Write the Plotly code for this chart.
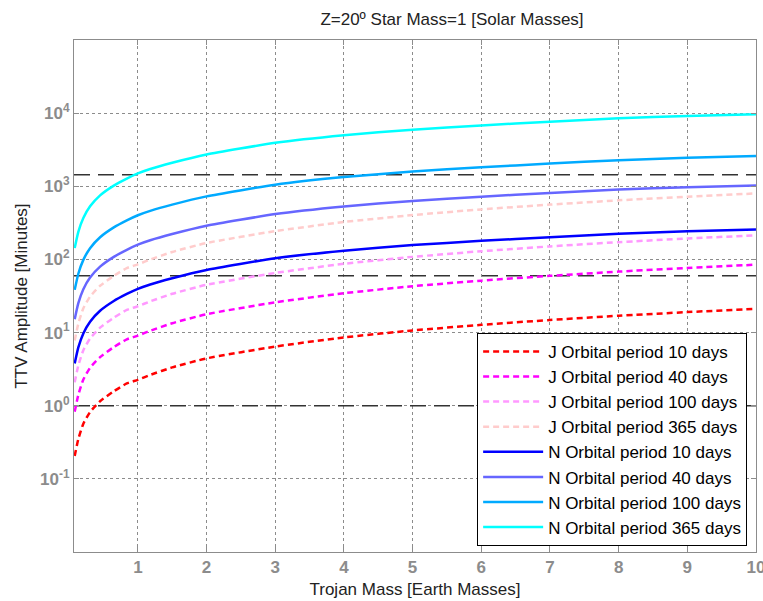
import plotly.graph_objects as go

# Trojan mass [Earth masses]
mass = [0.08, 0.133, 0.206, 0.304, 0.45, 0.644, 0.839, 1.0, 1.18, 1.5,
        2, 3, 4, 5, 6, 7, 8, 9, 10]

# TTV amplitude [minutes]
j_10 = [0.206, 0.350, 0.568, 0.820, 1.151, 1.563, 2.014, 2.259, 2.636, 3.342,
        4.436, 6.44, 8.59, 10.69, 12.76, 14.86, 16.98, 19.05, 21.09]
j_40 = [0.828, 1.406, 2.28, 3.30, 4.62, 6.28, 8.09, 9.08, 10.59, 13.43,
        17.82, 25.9, 34.5, 43.0, 51.3, 59.7, 68.2, 76.6, 84.7]
j_100 = [2.09, 3.55, 5.75, 8.32, 11.67, 15.85, 20.4, 22.9, 26.7, 33.9,
         45.0, 65.3, 87.1, 108.4, 129.4, 150.7, 172.2, 193.2, 213.8]
j_365 = [7.80, 13.24, 21.5, 31.0, 43.6, 59.2, 76.2, 85.5, 99.8, 126.5,
         167.9, 243.8, 325.1, 404.6, 483.1, 562.3, 642.7, 721.1, 798]
n_10 = [3.78, 6.28, 9.73, 14.06, 19.86, 26.8, 33.7, 39.6, 45.5, 55.3,
        71.8, 103.8, 131.8, 157.0, 179.5, 201.8, 224.4, 242.1, 255.9]
n_40 = [15.2, 25.2, 39.1, 56.5, 79.8, 107.6, 135.5, 159.2, 182.8, 222.3,
        288.4, 416.9, 529.7, 631.0, 721.1, 810.6, 901.6, 972.7, 1028]
n_100 = [38.4, 63.7, 98.6, 142.6, 201, 272, 342, 402, 461, 561,
         728, 1052, 1337, 1593, 1820, 2046, 2275, 2455, 2594]
n_365 = [143, 238, 368, 532, 752, 1014, 1276, 1500, 1722, 2094,
         2716, 3926, 4989, 5943, 6792, 7638, 8492, 9162, 9683]

# reference levels: 1 minute, 1 hour, 1 day
ref_levels = [1, 60, 1440]

series = [
    ("J Orbital period 10 days", j_10, "#ff0000", "dash"),
    ("J Orbital period 40 days", j_40, "#ff00ff", "dash"),
    ("J Orbital period 100 days", j_100, "#ff99ff", "dash"),
    ("J Orbital period 365 days", j_365, "#ffcccc", "dash"),
    ("N Orbital period 10 days", n_10, "#0000ff", "solid"),
    ("N Orbital period 40 days", n_40, "#6666ff", "solid"),
    ("N Orbital period 100 days", n_100, "#00aaff", "solid"),
    ("N Orbital period 365 days", n_365, "#00ffff", "solid"),
]

x_ticks = [1, 2, 3, 4, 5, 6, 7, 8, 9, 10]
y_ticks = [0.1, 1, 10, 100, 1000, 10000]
y_ticktext = ["10<sup>-1</sup>", "10<sup>0</sup>", "10<sup>1</sup>",
              "10<sup>2</sup>", "10<sup>3</sup>", "10<sup>4</sup>"]

x_range = [0.07, 10.0005]

fig = go.Figure()

for lvl in ref_levels:
    fig.add_trace(go.Scatter(
        x=x_range, y=[lvl, lvl], mode="lines", showlegend=False,
        hoverinfo="skip",
        line=dict(color="#333333", width=1.5, dash="16px,8px")))

for name, vals, color, dash in series:
    fig.add_trace(go.Scatter(
        x=mass, y=vals, mode="lines", name=name,
        line=dict(color=color, width=2.5,
                  dash="6px,4px" if dash == "dash" else "solid",
                  shape="spline", smoothing=0.5)))

font_main = "Liberation Sans, Arial, sans-serif"

fig.update_layout(
    width=763, height=601,
    margin=dict(l=74, r=7, t=40, b=49, autoexpand=False),
    paper_bgcolor="white", plot_bgcolor="white",
    title=dict(text="Z=20º Star Mass=1 [Solar Masses]",
               x=(74 + 378) / 763, xanchor="center", y=1 - 19 / 601, yanchor="middle",
               font=dict(family=font_main, size=17, color="#222222")),
    legend=dict(x=0.987, y=0.012, xanchor="right", yanchor="bottom",
                bgcolor="white", bordercolor="#000000", borderwidth=1,
                font=dict(family=font_main, size=17, color="#000000"),
                itemwidth=60, tracegroupgap=0),
    showlegend=True,
)

fig.update_xaxes(
    range=x_range, tickvals=x_ticks, ticktext=[str(t) for t in x_ticks],
    showline=True, linecolor="#8c8c8c", linewidth=1, mirror="ticks",
    ticks="inside", ticklen=5, tickcolor="#8c8c8c",
    showgrid=True, gridcolor="#8c8c8c", gridwidth=1, griddash="3px,3px",
    zeroline=False, ticklabeloverflow="allow", automargin=False,
    tickfont=dict(family=font_main, size=17, color="#8c8c8c", weight="bold"),
    title=dict(text="Trojan Mass [Earth Masses]", standoff=6,
               font=dict(family=font_main, size=17, color="#222222")),
)

fig.update_yaxes(
    type="log", range=[-2, 5], tickvals=y_ticks, ticktext=y_ticktext,
    showline=True, linecolor="#8c8c8c", linewidth=1, mirror="ticks",
    ticks="inside", ticklen=5, tickcolor="#8c8c8c",
    showgrid=True, gridcolor="#8c8c8c", gridwidth=1, griddash="3px,3px",
    zeroline=False, automargin=False,
    tickfont=dict(family=font_main, size=17, color="#8c8c8c", weight="bold"),
    title=dict(text="TTV Amplitude [Minutes]", standoff=8,
               font=dict(family=font_main, size=17, color="#222222")),
)

fig.write_html("out.html")
